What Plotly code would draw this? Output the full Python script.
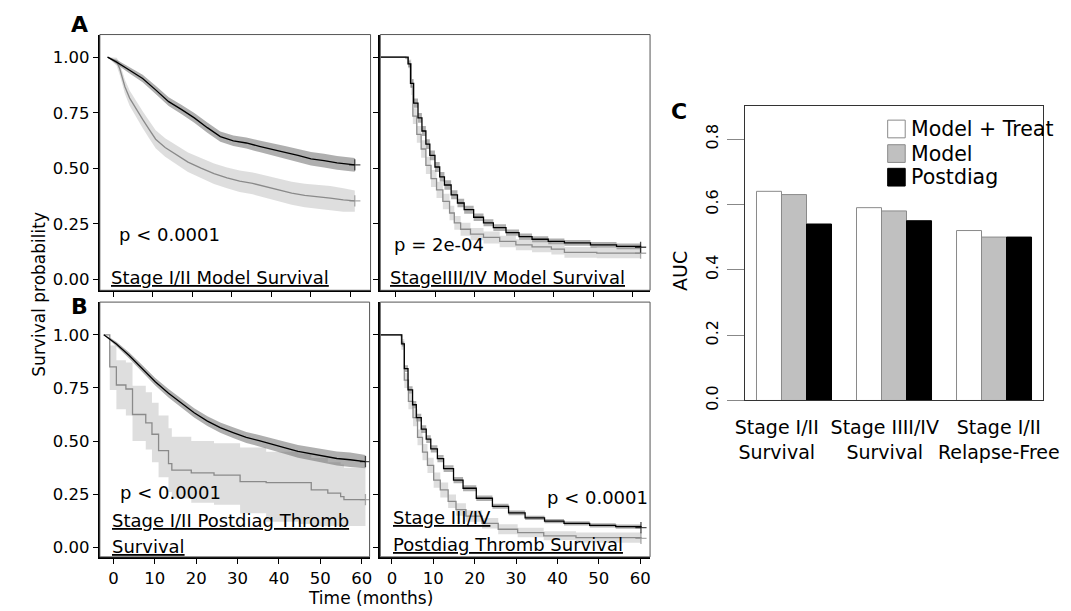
import plotly.graph_objects as go

# ---------------- data ----------------
# Panel A left: Stage I/II Model Survival
AL_T_LOW = [-1.5, 0.8, 4.1, 7.4, 10.7, 14.0, 17.3, 20.5, 23.8, 27.1, 30.4, 33.7, 37.0, 40.3, 43.5, 46.8, 50.1, 53.4, 56.7, 61.2]
AL_S_LOW = [1.0, 0.978, 0.941, 0.904, 0.853, 0.800, 0.764, 0.727, 0.683, 0.643, 0.624, 0.614, 0.599, 0.584, 0.572, 0.558, 0.543, 0.535, 0.525, 0.516]
AL_L_LOW = [1.0, 0.968, 0.927, 0.887, 0.834, 0.780, 0.743, 0.705, 0.660, 0.620, 0.600, 0.589, 0.573, 0.557, 0.544, 0.529, 0.513, 0.504, 0.494, 0.485]
AL_U_LOW = [1.0, 0.988, 0.955, 0.921, 0.872, 0.820, 0.785, 0.749, 0.706, 0.666, 0.648, 0.639, 0.625, 0.611, 0.600, 0.587, 0.573, 0.566, 0.556, 0.547]
AL_T_HIGH = [-1.5, 0.8, 1.6, 2.9, 4.1, 5.8, 7.4, 9.0, 10.7, 13.1, 15.6, 18.9, 22.2, 25.5, 28.8, 32.0, 35.3, 38.6, 41.9, 45.2, 48.5, 51.8, 55.0, 58.3, 61.2]
AL_S_HIGH = [1.0, 0.982, 0.948, 0.867, 0.816, 0.764, 0.720, 0.676, 0.631, 0.594, 0.565, 0.528, 0.501, 0.476, 0.457, 0.442, 0.432, 0.417, 0.403, 0.388, 0.378, 0.373, 0.366, 0.358, 0.354]
AL_L_HIGH = [1.0, 0.962, 0.920, 0.835, 0.782, 0.728, 0.682, 0.636, 0.590, 0.552, 0.522, 0.484, 0.456, 0.430, 0.410, 0.394, 0.383, 0.367, 0.352, 0.336, 0.325, 0.319, 0.311, 0.305, 0.305]
AL_U_HIGH = [1.0, 0.998, 0.975, 0.898, 0.850, 0.800, 0.757, 0.715, 0.671, 0.635, 0.607, 0.571, 0.546, 0.522, 0.504, 0.490, 0.481, 0.467, 0.454, 0.440, 0.431, 0.427, 0.420, 0.410, 0.400]

# Panel A right: Stage III/IV Model Survival
AR_T_LOW = [-3.9, 2.5, 3.1, 3.7, 4.5, 5.6, 6.6, 7.6, 8.6, 9.9, 11.1, 12.3, 14.0, 15.6, 17.3, 19.7, 22.2, 24.7, 27.9, 31.2, 34.5, 38.6, 42.7, 49.3, 55.9, 62.0]
AR_S_LOW = [1.0, 1.0, 0.970, 0.882, 0.793, 0.727, 0.668, 0.609, 0.558, 0.506, 0.462, 0.425, 0.381, 0.344, 0.314, 0.280, 0.255, 0.233, 0.211, 0.193, 0.181, 0.171, 0.165, 0.156, 0.149, 0.145]
AR_L_LOW = [1.0, 0.995, 0.955, 0.862, 0.772, 0.705, 0.646, 0.587, 0.536, 0.484, 0.441, 0.404, 0.361, 0.325, 0.296, 0.263, 0.239, 0.218, 0.197, 0.179, 0.168, 0.158, 0.152, 0.143, 0.136, 0.132]
AR_U_LOW = [1.0, 1.0, 0.985, 0.902, 0.814, 0.749, 0.690, 0.631, 0.580, 0.528, 0.483, 0.446, 0.401, 0.363, 0.332, 0.297, 0.271, 0.248, 0.225, 0.207, 0.194, 0.184, 0.178, 0.169, 0.162, 0.158]
AR_T_HIGH = [-3.9, 2.5, 3.1, 3.9, 4.3, 5.3, 6.4, 7.6, 8.9, 10.3, 11.9, 13.6, 14.8, 16.4, 18.9, 22.2, 26.3, 30.4, 34.5, 39.4, 42.7, 50.9, 62.0]
AR_S_HIGH = [1.0, 0.997, 0.970, 0.867, 0.735, 0.653, 0.587, 0.513, 0.454, 0.403, 0.351, 0.299, 0.255, 0.226, 0.204, 0.189, 0.171, 0.156, 0.147, 0.137, 0.122, 0.119, 0.118]
AR_L_HIGH = [1.0, 0.990, 0.950, 0.830, 0.700, 0.615, 0.548, 0.474, 0.416, 0.366, 0.316, 0.266, 0.224, 0.197, 0.176, 0.162, 0.145, 0.131, 0.122, 0.112, 0.098, 0.095, 0.094]
AR_U_HIGH = [1.0, 1.0, 0.990, 0.900, 0.770, 0.690, 0.626, 0.552, 0.492, 0.440, 0.386, 0.332, 0.286, 0.255, 0.232, 0.216, 0.197, 0.181, 0.172, 0.162, 0.146, 0.143, 0.142]

# Panel B left: Stage I/II Postdiag Thromb Survival
BL_T_NO = [-2.35, -0.9, 0.7, 3.8, 7.0, 10.1, 13.3, 16.4, 19.5, 22.7, 25.8, 28.9, 32.1, 35.2, 38.4, 41.5, 44.6, 47.8, 50.9, 54.0, 57.2, 60.9]
BL_S_NO = [1.0, 0.980, 0.957, 0.903, 0.841, 0.779, 0.725, 0.679, 0.633, 0.594, 0.563, 0.540, 0.517, 0.502, 0.483, 0.468, 0.452, 0.440, 0.427, 0.418, 0.412, 0.403]
BL_L_NO = [1.0, 0.972, 0.946, 0.889, 0.825, 0.761, 0.705, 0.658, 0.611, 0.571, 0.539, 0.515, 0.491, 0.475, 0.455, 0.439, 0.422, 0.409, 0.395, 0.385, 0.378, 0.372]
BL_U_NO = [1.0, 0.988, 0.968, 0.917, 0.857, 0.797, 0.745, 0.700, 0.655, 0.617, 0.587, 0.565, 0.543, 0.529, 0.511, 0.497, 0.482, 0.471, 0.459, 0.451, 0.446, 0.435]
BL_T_YES = [-2.35, -0.9, 0.7, 3.0, 4.6, 7.8, 9.3, 10.9, 13.3, 14.1, 18.8, 24.3, 30.6, 36.9, 44.7, 47.8, 51.8, 54.9, 55.7, 60.9]
BL_S_YES = [1.0, 0.849, 0.764, 0.745, 0.625, 0.586, 0.532, 0.455, 0.394, 0.363, 0.350, 0.340, 0.309, 0.304, 0.304, 0.270, 0.255, 0.239, 0.224, 0.224]
BL_L_YES = [1.0, 0.74, 0.65, 0.62, 0.50, 0.46, 0.40, 0.33, 0.26, 0.23, 0.21, 0.20, 0.16, 0.12, 0.11, 0.10, 0.10, 0.10, 0.10, 0.10]
BL_U_YES = [1.0, 0.95, 0.88, 0.87, 0.76, 0.73, 0.68, 0.62, 0.56, 0.52, 0.50, 0.49, 0.47, 0.45, 0.44, 0.42, 0.40, 0.39, 0.375, 0.375]

# Panel B right: Stage III/IV Postdiag Thromb Survival
BR_T_NO = [-2.8, 2.0, 2.4, 3.0, 3.9, 5.0, 5.9, 7.1, 8.3, 9.4, 11.0, 12.5, 14.9, 17.2, 20.4, 24.3, 28.2, 32.2, 36.9, 41.6, 47.8, 54.1, 60.2]
BR_S_NO = [1.0, 1.0, 0.957, 0.841, 0.741, 0.671, 0.610, 0.556, 0.509, 0.463, 0.417, 0.370, 0.316, 0.278, 0.231, 0.193, 0.162, 0.139, 0.123, 0.113, 0.103, 0.097, 0.093]
BR_L_NO = [1.0, 1.0, 0.945, 0.825, 0.724, 0.653, 0.592, 0.538, 0.491, 0.446, 0.400, 0.354, 0.301, 0.264, 0.218, 0.181, 0.151, 0.129, 0.113, 0.103, 0.093, 0.087, 0.083]
BR_U_NO = [1.0, 1.0, 0.969, 0.857, 0.758, 0.689, 0.628, 0.574, 0.527, 0.480, 0.434, 0.386, 0.331, 0.292, 0.244, 0.205, 0.173, 0.149, 0.133, 0.123, 0.113, 0.107, 0.103]
BR_T_YES = [-2.8, 2.0, 2.3, 3.0, 4.0, 5.1, 6.2, 7.4, 8.6, 10.1, 11.7, 13.6, 15.5, 17.9, 21.8, 25.7, 30.4, 36.7, 44.5, 60.2]
BR_S_YES = [1.0, 1.0, 0.957, 0.787, 0.687, 0.610, 0.517, 0.448, 0.386, 0.316, 0.270, 0.216, 0.177, 0.147, 0.113, 0.085, 0.069, 0.054, 0.046, 0.042]
BR_L_YES = [1.0, 0.99, 0.93, 0.75, 0.65, 0.57, 0.48, 0.41, 0.35, 0.28, 0.235, 0.185, 0.148, 0.12, 0.088, 0.062, 0.047, 0.033, 0.022, 0.012]
BR_U_YES = [1.0, 1.0, 0.98, 0.82, 0.725, 0.65, 0.555, 0.486, 0.422, 0.352, 0.305, 0.248, 0.207, 0.175, 0.138, 0.108, 0.092, 0.076, 0.070, 0.068]

# Panel C: AUC bars
C_CATEGORIES = ["Stage I/II<br>Survival", "Stage IIII/IV<br>Survival", "Stage I/II<br>Relapse-Free"]
C_SERIES = ["Model + Treat", "Model", "Postdiag"]
AUC_MODEL_TREAT = [0.64, 0.59, 0.52]
AUC_MODEL = [0.63, 0.58, 0.50]
AUC_POSTDIAG = [0.54, 0.55, 0.50]

KM_YTICKS = [0, 0.25, 0.5, 0.75, 1.0]
KM_YTICKTEXT = ["0.00", "0.25", "0.50", "0.75", "1.00"]
KM_XTICKS = [0, 10, 20, 30, 40, 50, 60]

# ---------------- figure ----------------
FW, FH = 1071, 611
FONT = "DejaVu Sans"
DARK_BAND = "rgba(110,110,110,0.55)"
LIGHT_BAND = "rgba(190,190,190,0.5)"
BLACK = "#000000"
GRAY = "#8a8a8a"

fig = go.Figure()


def px_x(p):
    return p / FW


def px_y(p):
    return 1 - p / FH


def add_band(t, lo, hi, color, ax, shape):
    xa, ya = ax
    fig.add_trace(go.Scatter(x=t, y=lo, mode="lines", line=dict(width=0, shape=shape),
                             xaxis=xa, yaxis=ya, showlegend=False, hoverinfo="skip"))
    fig.add_trace(go.Scatter(x=t, y=hi, mode="lines", line=dict(width=0, shape=shape),
                             fill="tonexty", fillcolor=color,
                             xaxis=xa, yaxis=ya, showlegend=False, hoverinfo="skip"))


def add_curve(t, s, color, ax, shape):
    xa, ya = ax
    n = len(t)
    fig.add_trace(go.Scatter(x=t, y=s, mode="lines+markers",
                             line=dict(color=color, width=1.3, shape=shape),
                             marker=dict(symbol="cross-thin", size=[0] * (n - 1) + [8],
                                         line=dict(color=color, width=1.3), color=color),
                             xaxis=xa, yaxis=ya, showlegend=False))


panels = [
    (("x", "y"), "linear", "linear", AL_T_HIGH, AL_S_HIGH, AL_L_HIGH, AL_U_HIGH, AL_T_LOW, AL_S_LOW, AL_L_LOW, AL_U_LOW),
    (("x2", "y2"), "hv", "hv", AR_T_HIGH, AR_S_HIGH, AR_L_HIGH, AR_U_HIGH, AR_T_LOW, AR_S_LOW, AR_L_LOW, AR_U_LOW),
    (("x3", "y3"), "hv", "linear", BL_T_YES, BL_S_YES, BL_L_YES, BL_U_YES, BL_T_NO, BL_S_NO, BL_L_NO, BL_U_NO),
    (("x4", "y4"), "hv", "hv", BR_T_YES, BR_S_YES, BR_L_YES, BR_U_YES, BR_T_NO, BR_S_NO, BR_L_NO, BR_U_NO),
]
for ax, sh_g, sh_b, tg, sg, lg, ug, tb, sb, lb, ub in panels:
    add_band(tg, lg, ug, LIGHT_BAND, ax, sh_g)
    add_band(tb, lb, ub, DARK_BAND, ax, sh_b)
    add_curve(tg, sg, GRAY, ax, sh_g)
    add_curve(tb, sb, BLACK, ax, sh_b)

# Bars
bar_x = [2.5, 6.5, 10.5]
bar_styles = [("#ffffff", "#8a8a8a"), ("#c0c0c0", "#8a8a8a"), ("#000000", "#000000")]
for name, vals, (fill, edge) in zip(C_SERIES, [AUC_MODEL_TREAT, AUC_MODEL, AUC_POSTDIAG], bar_styles):
    fig.add_trace(go.Bar(x=bar_x, y=vals, name=name, marker=dict(color=fill, line=dict(color=edge, width=1)),
                         xaxis="x5", yaxis="y5", showlegend=False))

# ---------------- axes ----------------
tickfont = dict(family=FONT, size=16.5, color="black")
xA_dom_l = [px_x(83), px_x(361)]
xA_dom_r = [px_x(371), px_x(648)]
yA_dom = [px_y(287), px_y(27)]
yB_dom = [px_y(558), px_y(299)]

common_x = dict(tickvals=KM_XTICKS, ticks="outside", ticklen=5, tickcolor="black", showgrid=False,
                zeroline=False, showline=True, linecolor="black", linewidth=2, tickfont=tickfont)
common_y = dict(tickvals=KM_YTICKS, ticktext=KM_YTICKTEXT, ticks="outside", ticklen=5, tickcolor="black",
                showgrid=False, zeroline=False, showline=True, linecolor="black", linewidth=2, tickfont=tickfont)

fig.update_layout(
    xaxis=dict(domain=xA_dom_l, range=[-3.46, 65.2], anchor="y", showticklabels=False, **common_x),
    yaxis=dict(domain=yA_dom, range=[-0.0487, 1.1018], anchor="x", **common_y),
    xaxis2=dict(domain=xA_dom_r, range=[-3.95, 64.4], anchor="y2", showticklabels=False, **common_x),
    yaxis2=dict(domain=yA_dom, range=[-0.0487, 1.1018], anchor="x2", showticklabels=False, **common_y),
    xaxis3=dict(domain=[px_x(83), px_x(360)], range=[-3.3, 61.9], anchor="y3", **common_x),
    yaxis3=dict(domain=yB_dom, range=[-0.045, 1.154], anchor="x3", **common_y),
    xaxis4=dict(domain=xA_dom_r, range=[-2.8, 62.4], anchor="y4", **common_x),
    yaxis4=dict(domain=yB_dom, range=[-0.045, 1.154], anchor="x4", showticklabels=False, **common_y),
    xaxis5=dict(domain=[px_x(746), px_x(1051)], range=[0.56, 12.44], anchor="y5",
                tickvals=[1.81, 6.13, 10.69], ticktext=C_CATEGORIES, ticks="", tickangle=0,
                showgrid=False, zeroline=False,
                showline=True, mirror=True, linecolor="#333333", linewidth=1,
                tickfont=dict(family=FONT, size=19, color="black"), ticklabelstandoff=10),
    yaxis5=dict(domain=[px_y(399), px_y(100)], range=[0, 0.9], anchor="x5",
                tickvals=[0, 0.2, 0.4, 0.6, 0.8], tickformat=".1f", ticks="outside", ticklen=17,
                tickcolor="#888888", tickangle=-90, showgrid=False, zeroline=False,
                showline=True, mirror=True, linecolor="#333333", linewidth=1, ticklabelstandoff=3,
                tickfont=dict(family=FONT, size=16, color="black")),
    barmode="group", bargap=0.25, bargroupgap=0,
    showlegend=False,
    width=FW, height=FH, margin=dict(l=0, r=0, t=0, b=0),
    plot_bgcolor="white", paper_bgcolor="white",
    font=dict(family=FONT, color="black"),
)

# panel borders
for xa, ya in [("x", "y"), ("x2", "y2"), ("x3", "y3"), ("x4", "y4")]:
    fig.add_shape(type="rect", xref=f"{xa} domain", yref=f"{ya} domain", x0=0, x1=1, y0=0, y1=1,
                  line=dict(color="#555555", width=1), layer="above")

# legend of panel C (key boxes + labels)
LEG_ROWS = [123, 148, 172]
for name, (fill, edge), yc in zip(C_SERIES, bar_styles, LEG_ROWS):
    fig.add_shape(type="rect", xref="paper", yref="paper",
                  x0=px_x(892), x1=px_x(910), y0=px_y(yc + 9), y1=px_y(yc - 9),
                  fillcolor=fill, line=dict(color=edge, width=1))
    fig.add_annotation(text=name, x=px_x(914), y=px_y(yc), xref="paper", yref="paper", showarrow=False,
                       xanchor="left", yanchor="middle", font=dict(family=FONT, size=20.5, color="black"))

# ---------------- annotations ----------------
U = '<span style="text-decoration:underline">{}</span>'
ann = [
    ("<b>A</b>", 62, 17, 22, "center", 0),
    ("<b>B</b>", 62, 303, 22, "center", 0),
    ("<b>C</b>", 678, 105, 22, "center", 0),
    ("p < 0.0001", 101, 230, 18, "left", 0),
    (U.format("Stage I/II Model Survival"), 92, 274, 18, "left", 0),
    ("p = 2e-04", 383, 240, 18, "left", 0),
    (U.format("StageIIII/IV Model Survival"), 379, 274, 18, "left", 0),
    ("p < 0.0001", 102, 493, 18, "left", 0),
    (U.format("Stage I/II Postdiag Thromb"), 93, 521, 18, "left", 0),
    (U.format("Survival"), 93, 547, 18, "left", 0),
    ("p < 0.0001", 540, 498, 18, "left", 0),
    (U.format("Stage III/IV"), 382, 518, 18, "left", 0),
    (U.format("Postdiag Thromb Survival"), 382, 545, 18, "left", 0),
    ("Survival probability", 21, 291, 17, "center", -90),
    ("Time (months)", 361, 600, 17, "center", 0),
    ("AUC", 678, 267, 19, "center", -90),
]
for text, x, y, size, anchor, angle in ann:
    fig.add_annotation(text=text, x=px_x(x), y=px_y(y), xref="paper", yref="paper", showarrow=False,
                       xanchor=anchor, yanchor="middle", textangle=angle,
                       font=dict(family=FONT, size=size, color="black"))

fig.write_html("out.html")
